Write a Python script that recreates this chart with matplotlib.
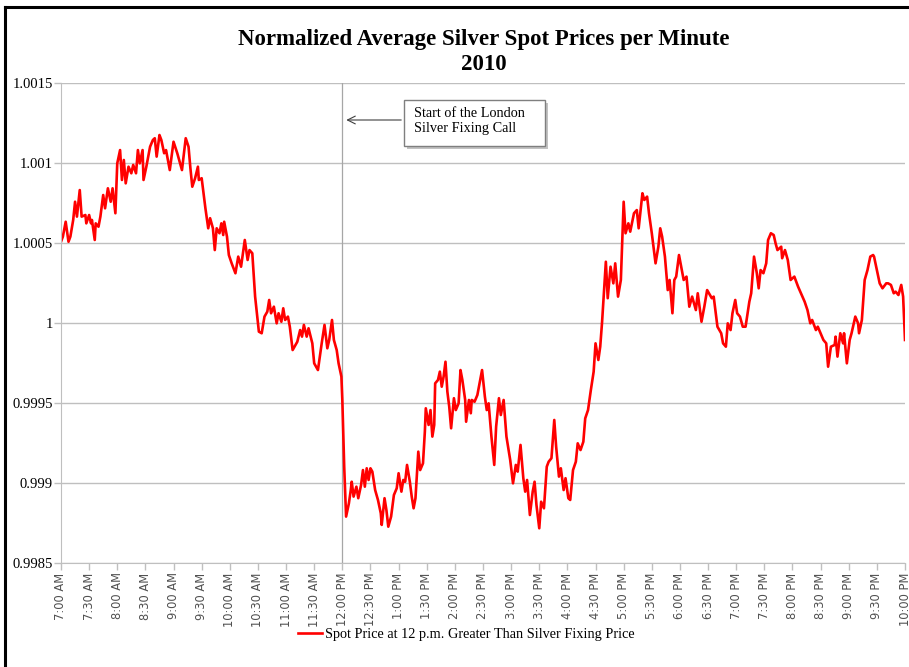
import numpy as np
import matplotlib.pyplot as plt
from matplotlib.lines import Line2D
from matplotlib.patches import Rectangle, FancyArrowPatch

# minutes after 7:00 AM and normalized average price
minutes = [0, 2, 5, 8, 10, 13, 15, 17, 20, 22, 26, 27, 30, 32, 33, 36, 37, 40, 42, 45,
           47, 50, 53, 55, 58, 60, 63, 65, 67, 69, 72, 75, 77, 80, 82, 84, 87, 88, 91, 95,
           98, 100, 102, 105, 107, 110, 112, 116, 120, 124, 129, 133, 136, 138, 140, 143, 146, 147, 150, 154,
           157, 159, 162, 164, 166, 169, 171, 173, 174, 177, 179, 182, 186, 189, 192, 194, 196, 199, 201, 204,
           207, 211, 214, 217, 220, 222, 224, 227, 230, 232, 235, 237, 239, 242, 244, 247, 252, 255, 257, 259,
           262, 264, 268, 270, 274, 276, 278, 281, 284, 286, 289, 291, 294, 296, 299, 300, 302, 304, 307, 309,
           310, 312, 315, 317, 320, 322, 324, 326, 328, 330, 332, 335, 338, 341, 342, 345, 347, 349, 352, 355,
           358, 360, 363, 365, 367, 369, 372, 374, 376, 378, 381, 383, 386, 388, 389, 392, 394, 396, 398, 399,
           402, 404, 406, 408, 410, 412, 414, 416, 419, 421, 424, 426, 428, 431, 432, 435, 437, 438, 441, 444,
           446, 449, 452, 454, 456, 459, 462, 464, 467, 469, 472, 475, 479, 482, 485, 487, 490, 493, 495, 497,
           500, 503, 505, 507, 510, 512, 515, 518, 520, 523, 526, 528, 531, 533, 536, 538, 541, 543, 546, 549,
           551, 554, 557, 559, 562, 565, 568, 570, 573, 575, 577, 581, 583, 586, 589, 591, 594, 597, 600, 602,
           605, 607, 611, 614, 616, 620, 622, 625, 627, 630, 634, 637, 639, 641, 644, 647, 649, 652, 654, 656,
           659, 662, 664, 667, 670, 673, 677, 679, 683, 686, 689, 694, 696, 700, 704, 706, 709, 711, 714, 716,
           719, 721, 724, 727, 730, 734, 736, 739, 742, 744, 746, 749, 752, 754, 757, 760, 762, 764, 768, 769,
           772, 775, 778, 782, 786, 789, 793, 796, 799, 801, 805, 807, 810, 813, 816, 818, 821, 825, 826, 828,
           831, 834, 835, 838, 841, 843, 847, 850, 851, 854, 857, 860, 863, 866, 867, 870, 873, 876, 880, 882,
           885, 888, 890, 893, 896, 898, 900]
prices = [1.000506, 1.000538, 1.000631, 1.000506, 1.000538, 1.000642, 1.000756, 1.000663, 1.000829, 1.000663,
          1.000673, 1.000621, 1.000673, 1.000621, 1.000642, 1.000517, 1.000621, 1.000600, 1.000663, 1.000798,
          1.000715, 1.000840, 1.000756, 1.000840, 1.000684, 1.000996, 1.001079, 1.000892, 1.001017, 1.000871,
          1.000975, 1.000934, 1.000986, 1.000934, 1.001079, 1.000996, 1.001079, 1.000892, 1.000975, 1.001100,
          1.001142, 1.001153, 1.001038, 1.001173, 1.001142, 1.001059, 1.001079, 1.000954, 1.001131, 1.001059,
          1.000954, 1.001153, 1.001100, 1.000965, 1.000850, 1.000903, 1.000975, 1.000892, 1.000903, 1.000715,
          1.000590, 1.000653, 1.000590, 1.000454, 1.000590, 1.000559, 1.000621, 1.000548, 1.000631, 1.000538,
          1.000423, 1.000371, 1.000309, 1.000413, 1.000350, 1.000434, 1.000517, 1.000392, 1.000454, 1.000434,
          1.000163, 0.999944, 0.999934, 1.000038, 1.000069, 1.000142, 1.000059, 1.000100, 0.999996, 1.000059,
          1.000006, 1.000090, 1.000017, 1.000038, 0.999975, 0.999829, 0.999881, 0.999954, 0.999913, 0.999986,
          0.999913, 0.999965, 0.999871, 0.999746, 0.999704, 0.999788, 0.999871, 0.999986, 0.999840, 0.999892,
          1.000017, 0.999892, 0.999829, 0.999746, 0.999663, 0.999517, 0.999100, 0.998788, 0.998871, 0.998954,
          0.999006, 0.998913, 0.998975, 0.998903, 0.998986, 0.999079, 0.998975, 0.999090, 0.999017, 0.999090,
          0.999069, 0.998954, 0.998892, 0.998809, 0.998736, 0.998903, 0.998829, 0.998725, 0.998788, 0.998923,
          0.998965, 0.999059, 0.998944, 0.999017, 0.999006, 0.999111, 0.999006, 0.998913, 0.998840, 0.998903,
          0.999194, 0.999079, 0.999121, 0.999319, 0.999465, 0.999361, 0.999454, 0.999288, 0.999361, 0.999621,
          0.999642, 0.999694, 0.999600, 0.999663, 0.999756, 0.999569, 0.999475, 0.999340, 0.999528, 0.999454,
          0.999496, 0.999704, 0.999642, 0.999517, 0.999381, 0.999517, 0.999434, 0.999517, 0.999506, 0.999548,
          0.999611, 0.999704, 0.999538, 0.999454, 0.999496, 0.999288, 0.999111, 0.999350, 0.999528, 0.999423,
          0.999517, 0.999288, 0.999142, 0.998996, 0.999111, 0.999069, 0.999236, 0.999028, 0.998944, 0.999017,
          0.998798, 0.998944, 0.999006, 0.998861, 0.998715, 0.998881, 0.998840, 0.999100, 0.999131, 0.999153,
          0.999392, 0.999225, 0.999038, 0.999090, 0.998954, 0.999028, 0.998903, 0.998892, 0.999079, 0.999131,
          0.999246, 0.999204, 0.999256, 0.999402, 0.999454, 0.999579, 0.999694, 0.999871, 0.999767, 0.999850,
          1.000006, 1.000381, 1.000153, 1.000350, 1.000246, 1.000371, 1.000163, 1.000267, 1.000756, 1.000559,
          1.000621, 1.000569, 1.000684, 1.000704, 1.000590, 1.000809, 1.000767, 1.000788, 1.000684, 1.000559,
          1.000371, 1.000475, 1.000590, 1.000538, 1.000413, 1.000204, 1.000267, 1.000059, 1.000267, 1.000288,
          1.000423, 1.000329, 1.000267, 1.000288, 1.000100, 1.000163, 1.000079, 1.000184, 1.000006, 1.000100,
          1.000204, 1.000153, 1.000163, 0.999975, 0.999934, 0.999871, 0.999850, 0.999996, 0.999954, 1.000059,
          1.000142, 1.000059, 1.000038, 0.999975, 0.999975, 1.000131, 1.000184, 1.000413, 1.000309, 1.000215,
          1.000329, 1.000309, 1.000371, 1.000517, 1.000559, 1.000548, 1.000496, 1.000454, 1.000475, 1.000403,
          1.000454, 1.000392, 1.000267, 1.000288, 1.000225, 1.000184, 1.000131, 1.000079, 0.999996, 1.000017,
          0.999954, 0.999975, 0.999934, 0.999892, 0.999871, 0.999725, 0.999850, 0.999861, 0.999913, 0.999788,
          0.999934, 0.999871, 0.999934, 0.999746, 0.999892, 0.999934, 1.000038, 0.999996, 0.999934, 1.000017,
          1.000267, 1.000329, 1.000413, 1.000423, 1.000413, 1.000329, 1.000246, 1.000215, 1.000246, 1.000246,
          1.000236, 1.000184, 1.000194, 1.000173, 1.000236, 1.000163, 0.999892]

tick_labels = ['7:00 AM', '7:30 AM', '8:00 AM', '8:30 AM', '9:00 AM', '9:30 AM', '10:00 AM', '10:30 AM',
               '11:00 AM', '11:30 AM', '12:00 PM', '12:30 PM', '1:00 PM', '1:30 PM', '2:00 PM', '2:30 PM',
               '3:00 PM', '3:30 PM', '4:00 PM', '4:30 PM', '5:00 PM', '5:30 PM', '6:00 PM', '6:30 PM',
               '7:00 PM', '7:30 PM', '8:00 PM', '8:30 PM', '9:00 PM', '9:30 PM', '10:00 PM']
y_ticks = [0.9985, 0.999, 0.9995, 1.0, 1.0005, 1.001, 1.0015]
y_labels = ['0.9985', '0.999', '0.9995', '1', '1.0005', '1.001', '1.0015']
fixing_minute = 300

serif = ['Liberation Serif', 'DejaVu Serif']
grid_col = '#bfbfbf'
W, H = 909, 667

fig = plt.figure(figsize=(9.09, 6.67), dpi=100)
ax = fig.add_axes([0.0671, 0.1564, 0.9285, 0.7196])

ax.plot(minutes, prices, color='#ff0000', linewidth=1.9,
        label='Spot Price at 12 p.m. Greater Than Silver Fixing Price')
ax.axvline(fixing_minute, color='#a6a6a6', linewidth=0.9, zorder=1)

ax.set_xlim(0, 900)
ax.set_ylim(0.9985, 1.0015)
ax.set_xticks(np.arange(0, 901, 30))
ax.set_xticklabels(tick_labels, rotation=90, fontsize=8.3, color='#505050',
                   family='DejaVu Sans')
ax.set_yticks(y_ticks)
ax.set_yticklabels(y_labels, fontsize=10.5, family=serif)
ax.grid(axis='y', color=grid_col, linewidth=1)
ax.set_axisbelow(True)
for s in ['top', 'right']:
    ax.spines[s].set_visible(False)
for s in ['left', 'bottom']:
    ax.spines[s].set_color(grid_col)
ax.tick_params(axis='both', color=grid_col, length=5, width=1)
ax.tick_params(axis='x', pad=2)
ax.tick_params(axis='y', pad=1)

fig.text(0.5325, 1 - 52 / H, 'Normalized Average Silver Spot Prices per Minute\n2010',
         ha='center', va='center', fontsize=16.5, fontweight='bold', family=serif,
         linespacing=1.3)

# annotation box with shadow and arrow
bx0, bx1, by0, by1 = 404, 545, 100, 146
fig.add_artist(Rectangle((bx0 / W + 3 / W, 1 - by1 / H - 3 / H), (bx1 - bx0) / W, (by1 - by0) / H,
                         transform=fig.transFigure, facecolor='#9a9a9a', edgecolor='none', alpha=0.6))
fig.add_artist(Rectangle((bx0 / W, 1 - by1 / H), (bx1 - bx0) / W, (by1 - by0) / H,
                         transform=fig.transFigure, facecolor='white', edgecolor='#7f7f7f', lw=1))
fig.text(414 / W, 1 - 121 / H, 'Start of the London\nSilver Fixing Call', fontsize=10.3,
         family=serif, va='center', ha='left', linespacing=1.15)
fig.add_artist(FancyArrowPatch((bx0 / W, 1 - 120 / H), (343.5 / W, 1 - 120 / H),
                               transform=fig.transFigure, arrowstyle='->', color='#404040',
                               lw=0.8, mutation_scale=14))

leg = fig.legend(loc='center', bbox_to_anchor=(0.513, 1 - 634 / H), frameon=False,
                 prop={'family': serif, 'size': 10.3}, handlelength=1.7, handletextpad=0.2)

# outer frame
fig.add_artist(Line2D([5 / W, 5 / W], [0, 1 - 7 / H], color='black', lw=2.2))
fig.add_artist(Line2D([5 / W, 1], [1 - 7 / H, 1 - 7 / H], color='black', lw=2.2))

fig.savefig('out.png', dpi=100)
